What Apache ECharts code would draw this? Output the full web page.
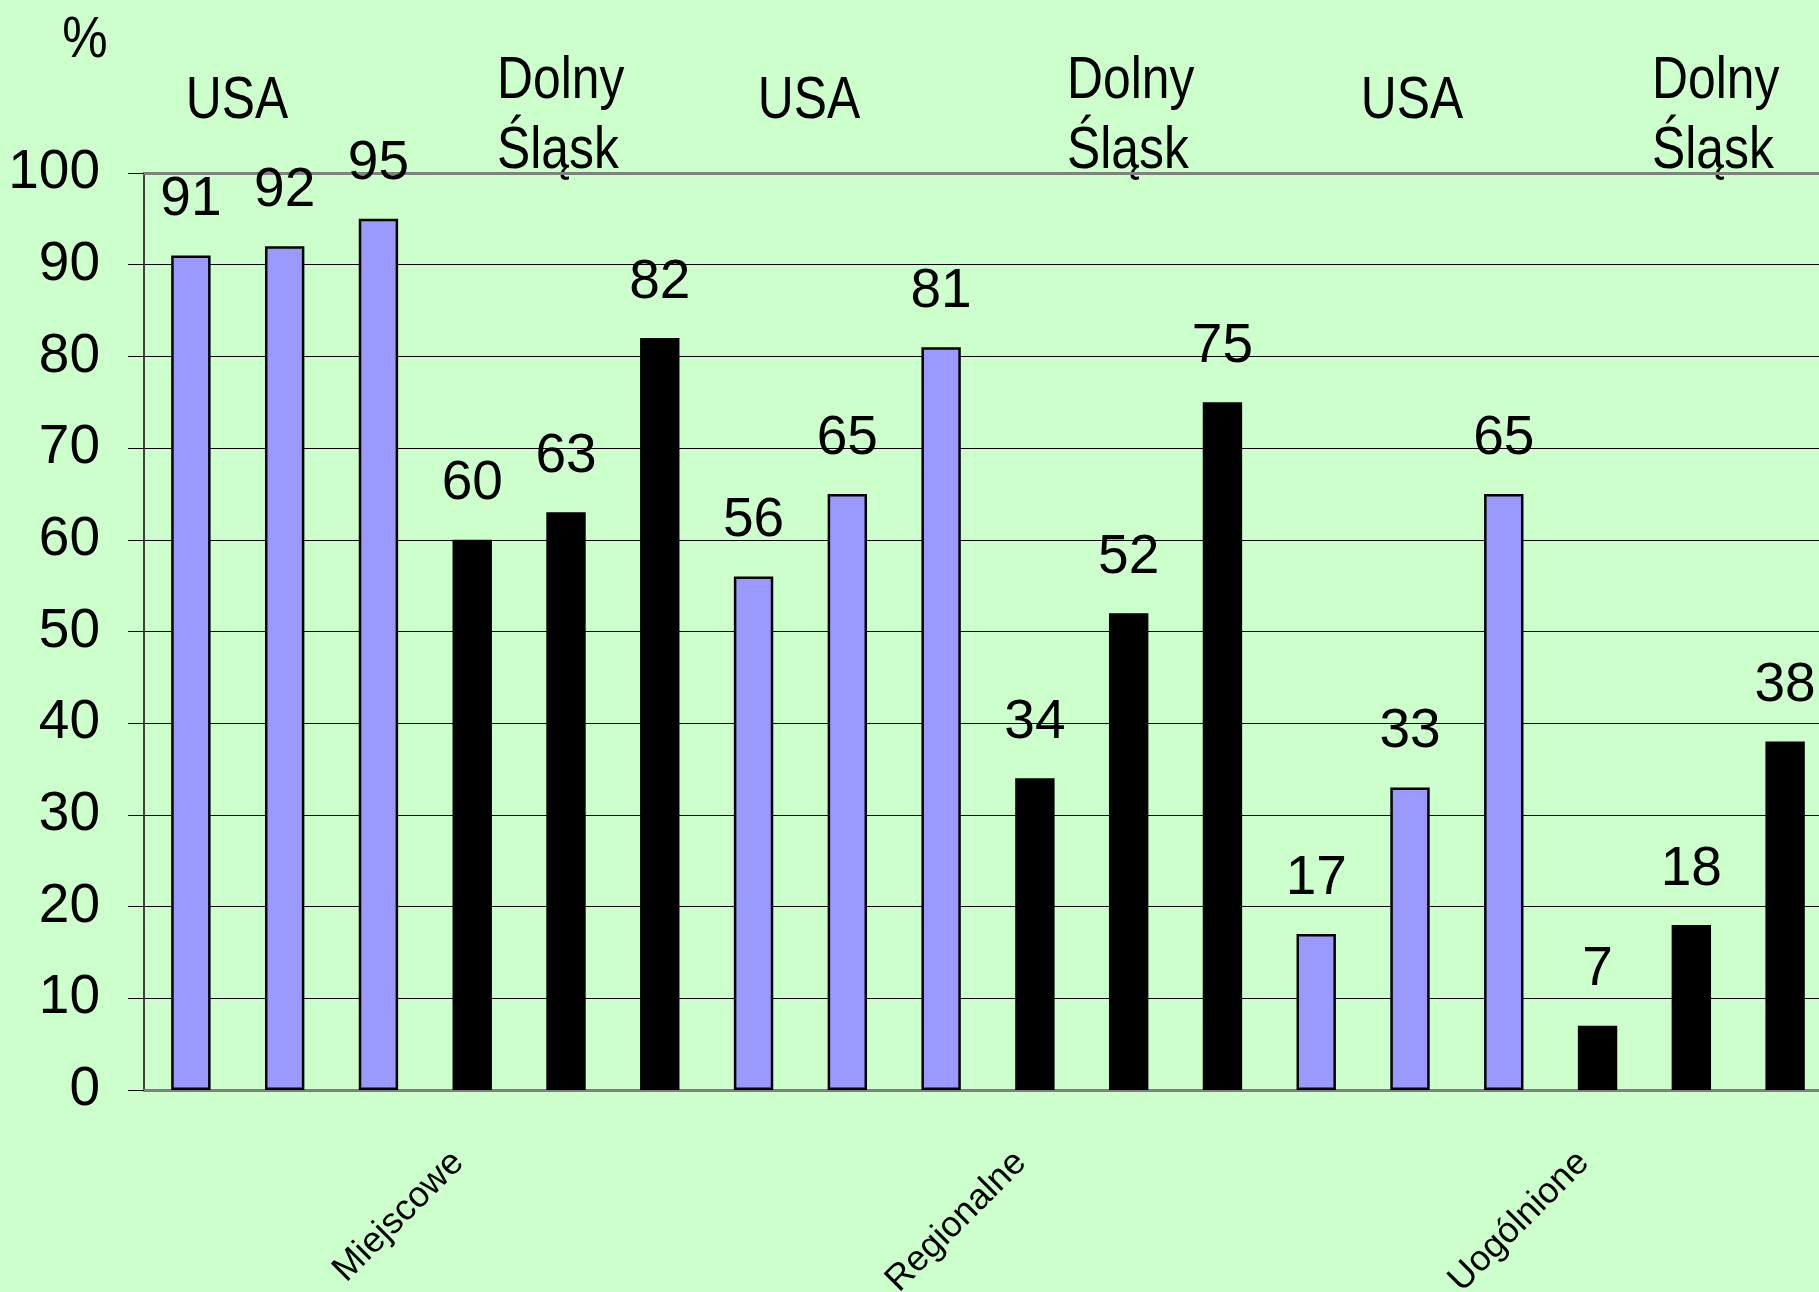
<!DOCTYPE html>
<html>
<head>
<meta charset="utf-8">
<script src="https://cdn.jsdelivr.net/npm/echarts@6/dist/echarts.min.js"></script>
<style>
html,body{margin:0;padding:0;background:#CCFFCC;overflow:hidden;}
#chart{width:1819px;height:1292px;}
</style>
</head>
<body>
<div id="chart"></div>
<script>
const categories = ['', '', '', 'Miejscowe', '', '', '', '', '', 'Regionalne', '', '', '', '', '', 'Uogólnione', '', ''];
const usaValues = [91, 92, 95, '-', '-', '-', 56, 65, 81, '-', '-', '-', 17, 33, 65, '-', '-', '-'];
const dolnySlaskValues = ['-', '-', '-', 60, 63, 82, '-', '-', '-', 34, 52, 75, '-', '-', '-', 7, 18, 38];
const yTicks = [0, 10, 20, 30, 40, 50, 60, 70, 80, 90, 100];
const unitLabel = '%';
const groupLabels = ['USA', 'Dolny\nŚląsk', 'USA', 'Dolny\nŚląsk', 'USA', 'Dolny\nŚląsk'];

const FONT = '"Liberation Sans", Arial, sans-serif';
const groupPos = [
  { x: 237, y: 101, align: 'center' },
  { x: 497, y: 116, align: 'left' },
  { x: 809, y: 101, align: 'center' },
  { x: 1067, y: 116, align: 'left' },
  { x: 1412, y: 101, align: 'center' },
  { x: 1652, y: 116, align: 'left' }
];

const chart = echarts.init(document.getElementById('chart'));
const labelCfg = {
  show: true, position: 'top', distance: 28,
  fontFamily: FONT, fontSize: 55, color: '#000'
};
const graphics = [{
  type: 'text',
  x: 85, y: 41, scaleX: 0.88,
  style: { text: unitLabel, x: 0, y: 0, align: 'center', verticalAlign: 'middle', font: '58px ' + FONT, fill: '#000' }
}];
groupLabels.forEach((t, i) => {
  graphics.push({
    type: 'text',
    x: groupPos[i].x, y: groupPos[i].y, scaleX: 0.83,
    style: { text: t, x: 0, y: 0, align: groupPos[i].align, verticalAlign: 'middle', font: '60px ' + FONT, lineHeight: 70, fill: '#000' }
  });
});

chart.setOption({
  backgroundColor: '#CCFFCC',
  animation: false,
  grid: { left: 144, top: 173, height: 917, width: 1688, containLabel: false, outerBoundsMode: 'none' },
  graphic: graphics,
  xAxis: [{
    type: 'category',
    data: categories,
    axisLine: { show: true, lineStyle: { color: '#808080', width: 3 } },
    axisTick: { show: false },
    axisLabel: { interval: 0, rotate: 45, margin: 53, padding: [0, 20, 0, 0], fontFamily: FONT, fontSize: 36, color: '#000' }
  }, {
    type: 'category',
    position: 'top',
    data: categories,
    axisLine: { show: true, lineStyle: { color: '#808080', width: 3 } },
    axisTick: { show: false },
    axisLabel: { show: false }
  }],
  yAxis: {
    type: 'value',
    min: yTicks[0], max: yTicks[yTicks.length - 1], interval: 10,
    axisLine: { show: true, lineStyle: { color: '#404040', width: 2 } },
    axisTick: { show: true, length: 16, inside: false, lineStyle: { color: '#000', width: 1 } },
    axisLabel: { margin: 44, fontFamily: FONT, fontSize: 55, color: '#000' },
    splitLine: { show: true, lineStyle: { color: '#000', width: 1 } }
  },
  series: [{
    name: 'USA', type: 'bar', data: usaValues,
    barWidth: '42%', barGap: '-100%',
    itemStyle: { color: '#9999FF', borderColor: '#000', borderWidth: 2.5 },
    label: labelCfg
  }, {
    name: 'Dolny Śląsk', type: 'bar', data: dolnySlaskValues,
    barWidth: '42%', barGap: '-100%',
    itemStyle: { color: '#000', borderColor: '#000', borderWidth: 2.5 },
    label: labelCfg
  }]
});
</script>
</body>
</html>
